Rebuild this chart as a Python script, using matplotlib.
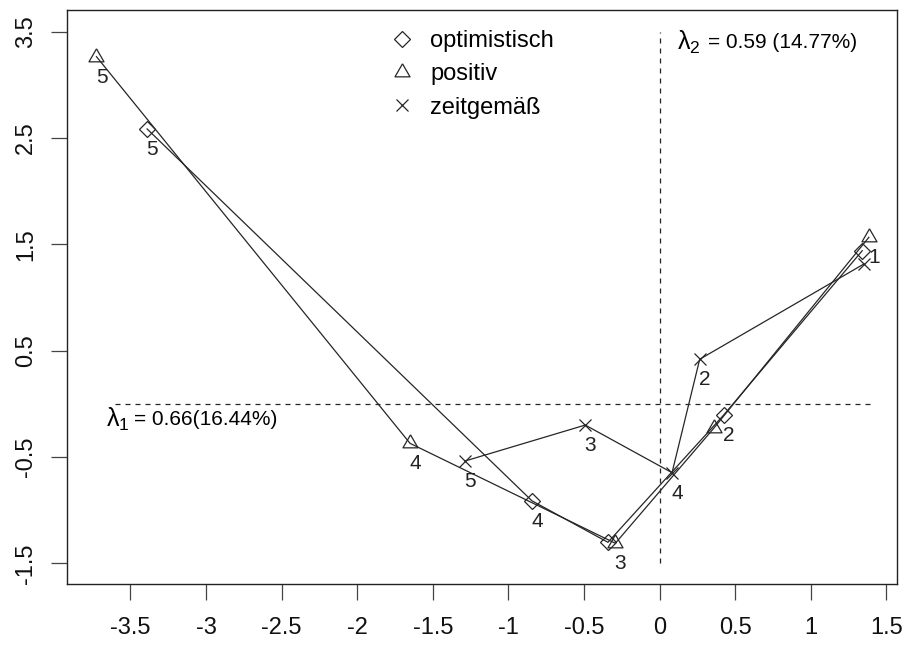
import numpy as np
import matplotlib
matplotlib.use("Agg")
import matplotlib.pyplot as plt

plt.rcParams["font.family"] = ["Liberation Sans", "DejaVu Sans"]
plt.rcParams["axes.unicode_minus"] = False
plt.rcParams["mathtext.fontset"] = "custom"
plt.rcParams["mathtext.rm"] = "Liberation Sans"
plt.rcParams["mathtext.it"] = "Liberation Sans"

# category points 1..5 for each adjective
opt_x = [1.34, 0.424, -0.342, -0.845, -3.39]
opt_y = [1.44, -0.105, -1.303, -0.912, 2.585]
opt_lab = ["", "2", "", "4", "5"]

pos_x = [1.384, 0.358, -0.293, -1.651, -3.725]
pos_y = [1.566, -0.23, -1.312, -0.372, 3.265]
pos_lab = ["1", "", "3", "4", "5"]

zeit_x = [1.351, 0.265, -0.492, 0.082, -1.287]
zeit_y = [1.315, 0.419, -0.2, -0.648, -0.538]
zeit_lab = ["", "2", "3", "4", "5"]

xticks = [-3.5, -3, -2.5, -2, -1.5, -1, -0.5, 0, 0.5, 1, 1.5]
xtick_labels = ["-3.5", "-3", "-2.5", "-2", "-1.5", "-1", "-0.5", "0", "0.5", "1", "1.5"]
yticks = [-1.5, -0.5, 0.5, 1.5, 2.5, 3.5]
ytick_labels = ["-1.5", "-0.5", "0.5", "1.5", "2.5", "3.5"]

lam1_text = "= 0.66(16.44%)"
lam2_text = "= 0.59 (14.77%)"

tri = [(0, 1), (-0.866, -0.5), (0.866, -0.5), (0, 1)]
line_col = "#262626"

fig = plt.figure(figsize=(9.07, 6.45), dpi=100)
ax = fig.add_axes([67 / 907, 61 / 645, 830 / 907, 574 / 645])

series = [
    ("optimistisch", opt_x, opt_y, opt_lab, dict(marker="D", ms=8.0)),
    ("positiv", pos_x, pos_y, pos_lab, dict(marker=tri, ms=12.5)),
    ("zeitgemäß", zeit_x, zeit_y, zeit_lab, dict(marker="x", ms=8.6)),
]

for name, xs, ys, labs, mk in series:
    xs = np.array(xs)
    ys = np.array(ys)
    order = np.argsort(xs)
    ax.plot(xs[order], ys[order], color=line_col, lw=0.9)
    ax.plot(xs, ys, linestyle="none", color=line_col, mfc="none", mec=line_col,
            mew=0.9, label=name, **mk)
    for x, y, t in zip(xs, ys, labs):
        if t:
            ax.annotate(t, (x, y), xytext=(3.6, -14.8), textcoords="offset points",
                        ha="center", va="center", fontsize=15, color="#222222")

# reference lines
ax.plot([0, 0], [-1.5, 3.5], color=line_col, lw=0.9, dashes=(4, 4))
ax.plot([-3.6, 1.4], [0, 0], color=line_col, lw=0.9, dashes=(4, 4))

t1 = ax.text(-3.66, -0.15, r"$\lambda_1$", fontsize=18, ha="left", va="center")
ax.annotate(lam1_text, xy=(1, 0.5), xycoords=t1, xytext=(3, 0), textcoords="offset points",
            ha="left", va="center", fontsize=15)
t2 = ax.text(0.117, 3.40, r"$\lambda_2$", fontsize=18, ha="left", va="center")
ax.annotate(lam2_text, xy=(1, 0.5), xycoords=t2, xytext=(5, 0), textcoords="offset points",
            ha="left", va="center", fontsize=15)

ax.legend(loc="upper left", bbox_to_anchor=(0.389, 0.965), frameon=False, fontsize=17,
          handlelength=1.0, handletextpad=0.7, labelspacing=0.48, borderpad=0,
          borderaxespad=0)

ax.set_xlim(-3.92, 1.57)
ax.set_ylim(-1.695, 3.704)
ax.set_xticks(xticks)
ax.set_xticklabels(xtick_labels)
ax.set_yticks(yticks)
ax.set_yticklabels(ytick_labels, rotation=90, va="center")
ax.tick_params(axis="both", direction="out", length=11.5, width=0.9, colors="#444444",
               labelcolor="#111111", labelsize=17)
ax.tick_params(axis="x", pad=12)
ax.tick_params(axis="y", pad=10)
for s in ax.spines.values():
    s.set_linewidth(1.0)
    s.set_color("#222222")

fig.savefig("out.png", dpi=100)
